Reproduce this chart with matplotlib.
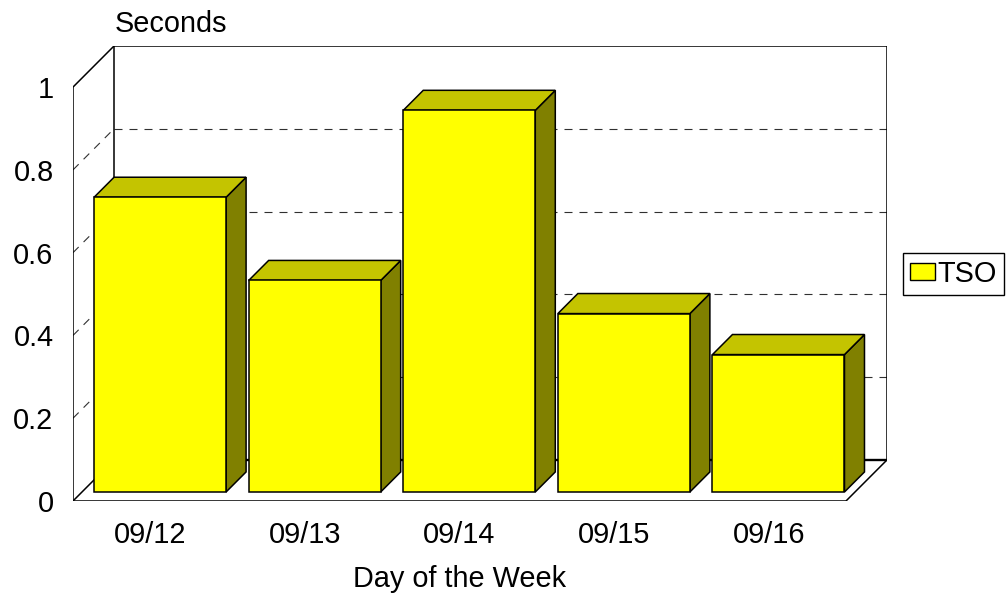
import matplotlib
matplotlib.use('Agg')
import matplotlib.pyplot as plt
from matplotlib.patches import Polygon, Patch
from matplotlib.transforms import blended_transform_factory

plt.rcParams['font.family'] = ['Liberation Sans', 'DejaVu Sans']

days = ['09/12', '09/13', '09/14', '09/15', '09/16']
seconds = [0.712, 0.511, 0.922, 0.431, 0.332]
y_ticks = [0, 0.2, 0.4, 0.6, 0.8, 1]
y_tick_labels = ['0', '0.2', '0.4', '0.6', '0.8', '1']
series_name = 'TSO'

# pseudo-3d depth of the wall, in data units (x: categories, y: value)
DX = 41 / 154.6
DY = 41 / 413.0
# bar placement within its slot (depth fractions of the wall depth)
BAR_Z0, BAR_Z1 = 9 / 41, 29 / 41
BAR_GAP, BAR_W = 0.078, 0.854

FRONT = '#ffff00'
TOP = '#c4c400'
SIDE = '#808000'
FS = 20.8


def proj(x, y, z):
    return (x + z * DX, y + z * DY)


fig = plt.figure(figsize=(10.06, 5.94), dpi=100)
ax = fig.add_axes([73 / 1006, 93 / 594, 814 / 1006, 455 / 594])
n = len(days)
ax.set_xlim(0, n + DX)
ax.set_ylim(0, 1 + DY)
for s in ax.spines.values():
    s.set_visible(False)

# walls and floor
frame = dict(color='black', lw=1.1, zorder=2, solid_capstyle='butt')
top = max(y_ticks)
ax.plot([0, 0], [0, top], **frame)
ax.plot(*zip(proj(0, top, 0), proj(0, top, 1)), **frame)
ax.plot(*zip(proj(0, 0, 1), proj(0, top, 1)), **frame)
ax.plot(*zip(proj(0, top, 1), proj(n, top, 1)), **frame)
ax.plot(*zip(proj(n, 0, 1), proj(n, top, 1)), **frame)
ax.plot([0, n], [0, 0], **frame)
ax.plot(*zip(proj(0, 0, 0), proj(0, 0, 1)), **frame)
ax.plot(*zip(proj(n, 0, 0), proj(n, 0, 1)), **frame)
ax.plot(*zip(proj(0, 0, 1), proj(n, 0, 1)), color='black', lw=1.7, zorder=2)

# dashed grid on back wall and side wall
for v in y_ticks[1:-1]:
    ax.plot(*zip(proj(0, v, 1), proj(n, v, 1)), color='#303030', lw=0.8,
            dashes=(7.2, 6.3), zorder=1)
    ax.plot(*zip(proj(0, v, 0), proj(0, v, 1)), color='#303030', lw=0.8,
            dashes=(7.2, 6.3), zorder=1)

# bars
for i, v in enumerate(seconds):
    x0 = i + BAR_GAP
    x1 = x0 + BAR_W
    front = [proj(x0, 0, BAR_Z0), proj(x1, 0, BAR_Z0),
             proj(x1, v, BAR_Z0), proj(x0, v, BAR_Z0)]
    topf = [proj(x0, v, BAR_Z0), proj(x1, v, BAR_Z0),
            proj(x1, v, BAR_Z1), proj(x0, v, BAR_Z1)]
    side = [proj(x1, 0, BAR_Z0), proj(x1, 0, BAR_Z1),
            proj(x1, v, BAR_Z1), proj(x1, v, BAR_Z0)]
    for pts, c in ((side, SIDE), (topf, TOP), (front, FRONT)):
        ax.add_patch(Polygon(pts, closed=True, facecolor=c, edgecolor='black',
                             lw=1.1, joinstyle='miter', zorder=3))

ax.set_yticks(y_ticks)
ax.set_yticklabels(y_tick_labels)
ax.set_xticks([i + 0.5 for i in range(n)])
ax.set_xticklabels(days)
ax.tick_params(axis='both', length=0, labelsize=FS)
ax.tick_params(axis='y', pad=14)
ax.tick_params(axis='x', pad=14.5)

lbl = ax.set_xlabel('Day of the Week', fontsize=FS, va='center')
ax.xaxis.set_label_coords(n / 2, -78 / 455,
                          transform=blended_transform_factory(ax.transData, ax.transAxes))
ax.text(42 / 814, 1 + 22 / 455, 'Seconds', transform=ax.transAxes,
        fontsize=FS, ha='left', va='center')

leg = fig.legend(handles=[Patch(facecolor=FRONT, edgecolor='black', lw=1.0, label=series_name)],
                 loc='center left', bbox_to_anchor=(903 / 1006, 1 - 274 / 594),
                 fontsize=FS, frameon=True, fancybox=False, framealpha=1,
                 edgecolor='black', borderpad=0.25, handlelength=0.85,
                 handleheight=0.55, handletextpad=0.1, borderaxespad=0)
leg.get_frame().set_linewidth(1.0)

fig.savefig('out.png', dpi=100)
